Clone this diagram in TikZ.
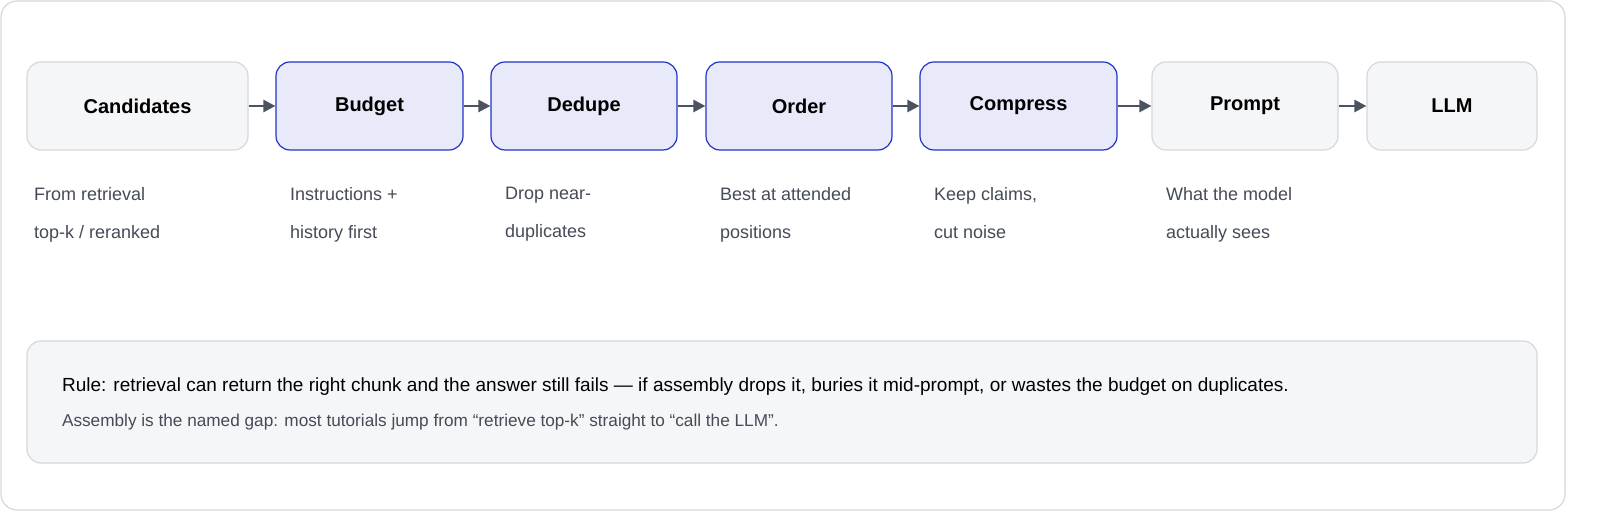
\documentclass[tikz,border=0pt]{standalone}
\usepackage{fontspec}
\setmainfont{Liberation Sans}
\usetikzlibrary{arrows.meta,positioning}
\definecolor{grayfill}{HTML}{F5F6F8}
\definecolor{grayline}{HTML}{D5D8DE}
\definecolor{bluefill}{HTML}{E8EAF9}
\definecolor{blueline}{HTML}{2233C8}
\definecolor{arrowc}{HTML}{4B5260}
\definecolor{capc}{HTML}{454B57}
\tikzset{
  stage/.style={draw=grayline, fill=grayfill, rounded corners=7pt, line width=0.6pt,
    minimum height=44pt, font=\fontsize{10}{12}\selectfont\bfseries, text=black},
  active stage/.style={stage, draw=blueline, fill=bluefill},
  note/.style={anchor=north west, align=left, font=\fontsize{9}{19}\selectfont, text=capc},
  flow/.style={-{Triangle[length=6pt,width=6pt]}, line width=1.2pt, draw=arrowc}
}
\begin{document}
\begin{tikzpicture}[x=0.5pt,y=-0.5pt]
  \useasboundingbox (0,0) rectangle (1600,522);
  \draw[grayline, rounded corners=8pt, line width=0.6pt, fill=white] (1,1) rectangle (1565,510);

  \node[stage, minimum width=110.5pt] (cand) at (137.5,106) {Candidates};
  \node[active stage, minimum width=93.5pt] (budget) at (369.5,106) {Budget};
  \node[active stage, minimum width=93pt] (dedupe) at (584,106) {Dedupe};
  \node[active stage, minimum width=93pt] (order) at (799,106) {Order};
  \node[active stage, minimum width=98.5pt] (compress) at (1018.5,106) {Compress};
  \node[stage, minimum width=93pt] (prompt) at (1245,106) {Prompt};
  \node[stage, minimum width=85pt] (llm) at (1452,106) {LLM};

  \draw[flow] (cand) -- (budget);
  \draw[flow] (budget) -- (dedupe);
  \draw[flow] (dedupe) -- (order);
  \draw[flow] (order) -- (compress);
  \draw[flow] (compress) -- (prompt);
  \draw[flow] (prompt) -- (llm);

  \node[note] (c1) at (27,180) {From retrieval\\top-k / reranked};
  \node[note] (c2) at (283,180) {Instructions +\\history first};
  \node[note] (c3) at (498,180) {Drop near-\\duplicates};
  \node[note] (c4) at (713,180) {Best at attended\\positions};
  \node[note] (c5) at (927,180) {Keep claims,\\cut noise};
  \node[note] (c6) at (1159,180) {What the model\\actually sees};

  \draw[grayline, fill=grayfill, rounded corners=7pt, line width=0.6pt] (27,341) rectangle (1537,463);
  \node[anchor=west, font=\fontsize{9.5}{12}\selectfont, text=black] (rule) at (55,387)
    {Rule: retrieval can return the right chunk and the answer still fails — if assembly drops it, buries it mid-prompt, or wastes the budget on duplicates.};
  \node[anchor=west, font=\fontsize{8.6}{11}\selectfont, text=capc] (gap) at (55,422)
    {Assembly is the named gap: most tutorials jump from “retrieve top-k” straight to “call the LLM”.};
\end{tikzpicture}
\end{document}
